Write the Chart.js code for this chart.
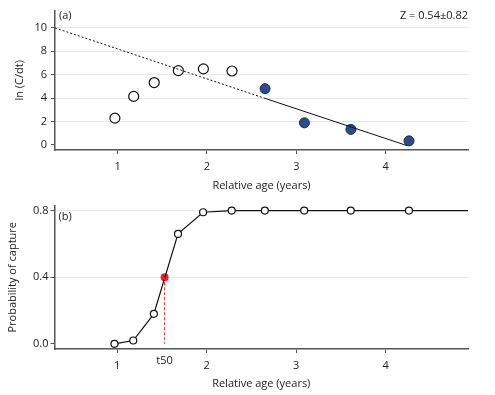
<!DOCTYPE html>
<html>
<head>
<meta charset="utf-8">
<script src="https://cdn.jsdelivr.net/npm/chart.js@4"></script>
<style>
    body { margin: 0; background: #fff; }
    .box { position: absolute; left: 0; width: 495px; }
    #top { top: 0; height: 197px; }
    #bottom { top: 197px; height: 198px; }
</style>
</head>
<body>
<div class="box" id="top"><canvas id="chartA"></canvas></div>
<div class="box" id="bottom"><canvas id="chartB"></canvas></div>
<script>
// data //
const ages = [0.97, 1.18, 1.41, 1.68, 1.96, 2.28, 2.65, 3.09, 3.61, 4.26];
const lnCdt = [2.29, 4.15, 5.33, 6.35, 6.5, 6.32, 4.81, 1.89, 1.33, 0.35];
const fitAges = [0.3, 2.65, 4.24];
const fitLn = [10.0, 3.98, -0.06];
const captureAges = [0.97, 1.18, 1.41, 1.68, 1.96, 2.28, 2.65, 3.09, 3.61, 4.26, 4.92];
const captureProb = [0.0, 0.02, 0.18, 0.66, 0.79, 0.8, 0.8, 0.8, 0.8, 0.8, 0.8];
const t50 = 1.53;
const t50Prob = 0.4;
const ageTicks = [1, 2, 3, 4];
const lnTicks = [0, 2, 4, 6, 8, 10];
const probTicks = [0, 0.4, 0.8];

Chart.defaults.font.family = "'Open Sans', 'Noto Sans', sans-serif";
Chart.defaults.font.size = 11;
Chart.defaults.color = '#222';

const pts = (xs, ys) => xs.map((x, i) => ({ x: x, y: ys[i] }));

const xAxis = (h) => ({
    type: 'linear',
    min: 0.3,
    max: 4.92,
    afterBuildTicks: (s) => { s.ticks = ageTicks.map(v => ({ value: v })); },
    afterFit: (s) => { s.height = h; },
    ticks: { padding: 6, callback: (v) => v },
    grid: { drawOnChartArea: false, tickLength: 4, tickColor: '#555' },
    border: { color: '#555', width: 1.5 },
    title: { display: true, text: 'Relative age (years)', padding: { top: 4, bottom: 5 } }
});

// little text labels inside the panels //
const labels = {
    id: 'labels',
    afterDraw(chart, args, opts) {
        const c = chart.ctx;
        const a = chart.chartArea;
        c.save();
        c.font = "11px 'Open Sans', 'Noto Sans', sans-serif";
        c.fillStyle = '#222';
        c.textBaseline = 'middle';
        c.textAlign = 'left';
        c.fillText(opts.tag, a.left + 4, opts.tagY);
        if (opts.right) {
            c.textAlign = 'right';
            c.fillText(opts.right, a.right, opts.tagY);
        }
        if (opts.t50) {
            const x = chart.scales.x.getPixelForValue(t50);
            c.textAlign = 'center';
            c.fillText('t50', x, a.bottom + 12);
        }
        c.restore();
    }
};

new Chart(document.querySelector('#chartA'), {
    type: 'scatter',
    data: {
        datasets: [
            {
                data: pts(fitAges, fitLn),
                showLine: true,
                borderColor: '#111',
                borderWidth: 1,
                pointRadius: 0,
                segment: { borderDash: (ctx) => ctx.p0DataIndex === 0 ? [2, 2] : undefined }
            },
            {
                data: pts(ages.slice(0, 6), lnCdt.slice(0, 6)),
                pointRadius: 5,
                pointBorderWidth: 1.2,
                pointBorderColor: '#111',
                pointBackgroundColor: '#fff'
            },
            {
                data: pts(ages.slice(6), lnCdt.slice(6)),
                pointRadius: 5,
                pointBorderWidth: 1,
                pointBorderColor: '#1a2a55',
                pointBackgroundColor: '#2d4c8e'
            }
        ]
    },
    options: {
        responsive: true,
        maintainAspectRatio: false,
        animation: false,
        layout: { padding: { right: 27, top: 0, bottom: 0 } },
        plugins: {
            legend: { display: false },
            tooltip: { enabled: false },
            labels: { tag: '(a)', tagY: 16, right: 'Z = 0.54±0.82' }
        },
        scales: {
            x: xAxis(47),
            y: {
                min: -0.43,
                max: 11.48,
                afterBuildTicks: (s) => { s.ticks = lnTicks.map(v => ({ value: v })); },
                afterFit: (s) => { s.width = 55; },
                ticks: { padding: 4 },
                grid: {
                    color: (ctx) => ctx.tick && ctx.tick.value === 0 ? 'rgba(0,0,0,0)' : '#e8e8e8',
                    tickLength: 4,
                    tickColor: '#555'
                },
                border: { color: '#555', width: 1.5 },
                title: { display: true, text: 'ln (C/dt)', padding: { top: 13, bottom: 4 } }
            }
        }
    },
    plugins: [labels]
})

new Chart(document.querySelector('#chartB'), {
    type: 'scatter',
    data: {
        datasets: [
            {
                data: [{ x: t50, y: t50Prob }, { x: t50, y: 0 }],
                showLine: true,
                borderColor: '#e8323a',
                borderWidth: 1,
                borderDash: [3, 2],
                pointRadius: 0
            },
            {
                data: pts(captureAges, captureProb),
                showLine: true,
                borderColor: '#111',
                borderWidth: 1.2,
                pointRadius: captureAges.map((x, i) => i === captureAges.length - 1 ? 0 : 3.5),
                pointBorderWidth: 1.2,
                pointBorderColor: '#111',
                pointBackgroundColor: '#fff'
            },
            {
                data: [{ x: t50, y: t50Prob }],
                pointRadius: 4,
                pointBorderWidth: 0,
                pointBackgroundColor: '#e8202a'
            }
        ]
    },
    options: {
        responsive: true,
        maintainAspectRatio: false,
        animation: false,
        layout: { padding: { right: 27, top: 0, bottom: 0 } },
        plugins: {
            legend: { display: false },
            tooltip: { enabled: false },
            labels: { tag: '(b)', tagY: 20, t50: true }
        },
        scales: {
            x: xAxis(46),
            y: {
                min: -0.031,
                max: 0.83,
                afterBuildTicks: (s) => { s.ticks = probTicks.map(v => ({ value: v })); },
                afterFit: (s) => { s.width = 54.5; },
                ticks: { padding: 2, callback: (v) => v.toFixed(1) },
                grid: {
                    color: (ctx) => ctx.tick && ctx.tick.value === 0 ? 'rgba(0,0,0,0)' : '#e8e8e8',
                    tickLength: 4,
                    tickColor: '#555'
                },
                border: { color: '#555', width: 1.5 },
                title: { display: true, text: 'Probability of capture', padding: { top: 6, bottom: 4 } }
            }
        }
    },
    plugins: [labels]
})
</script>
</body>
</html>
